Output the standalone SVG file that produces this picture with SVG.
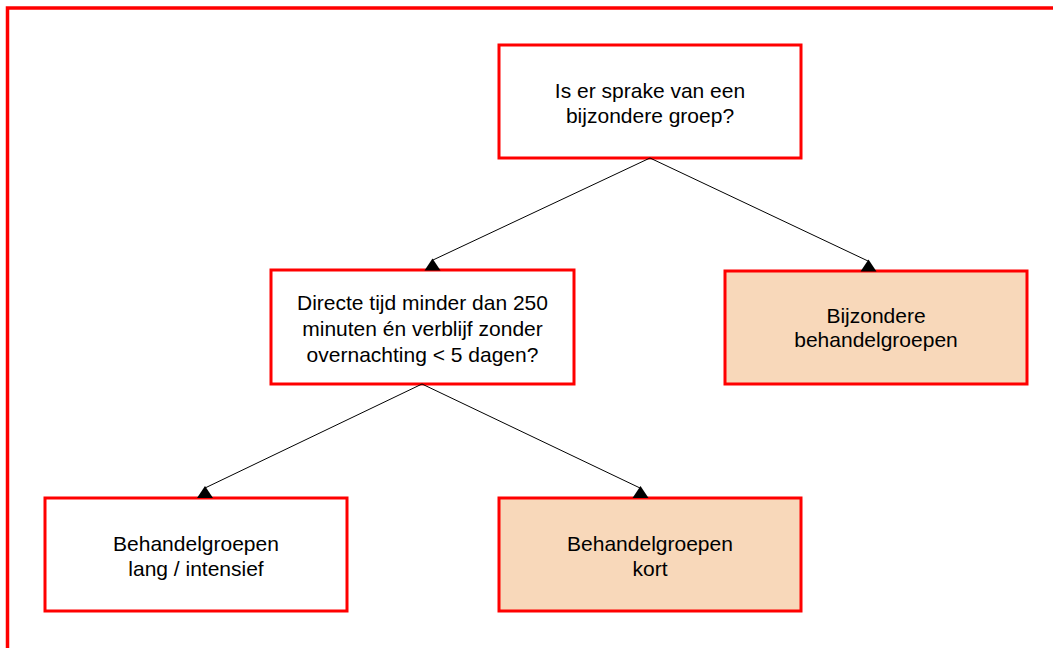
<svg xmlns="http://www.w3.org/2000/svg" width="1053" height="648" viewBox="0 0 1053 648">
<style>
.box{fill:#ffffff;stroke:#ff0000;stroke-width:3}
.fill{fill:#f8d8ba}
.t{font-family:"Liberation Sans",Arial,sans-serif;font-size:21px;fill:#000;text-anchor:middle}
.ln{stroke:#000;stroke-width:1;fill:none}
.ah{fill:#000}
</style>
<rect x="0" y="0" width="1053" height="648" fill="#ffffff"/>
<rect x="7.5" y="8" width="1100" height="700" fill="none" stroke="#ff0000" stroke-width="3.5"/>
<g id="n1">
<rect class="box" x="499" y="45" width="302" height="113"/>
<text class="t" x="650" y="98">Is er sprake van een</text>
<text class="t" x="650" y="123">bijzondere groep?</text>
</g>
<g id="n2">
<rect class="box" x="271" y="270" width="303" height="114"/>
<text class="t" x="422.5" y="310">Directe tijd minder dan 250</text>
<text class="t" x="422.5" y="336">minuten én verblijf zonder</text>
<text class="t" x="422.5" y="362">overnachting &lt; 5 dagen?</text>
</g>
<g id="n3">
<rect class="box fill" x="725" y="271" width="302" height="113"/>
<text class="t" x="876" y="323">Bijzondere</text>
<text class="t" x="876" y="347">behandelgroepen</text>
</g>
<g id="n4">
<rect class="box" x="45" y="498" width="302" height="113"/>
<text class="t" x="196" y="551">Behandelgroepen</text>
<text class="t" x="196" y="576">lang / intensief</text>
</g>
<g id="n5">
<rect class="box fill" x="499" y="498" width="302" height="113"/>
<text class="t" x="650" y="551">Behandelgroepen</text>
<text class="t" x="650" y="576">kort</text>
</g>
<g id="connectors">
<line class="ln" x1="650" y1="158" x2="433" y2="260"/>
<polygon class="ah" points="424.5,270.5 440.5,270.5 432.5,258.5"/>
<line class="ln" x1="650" y1="158" x2="868" y2="261"/>
<polygon class="ah" points="860.5,271.5 876.5,271.5 868.5,259.5"/>
<line class="ln" x1="422" y1="384" x2="205" y2="488"/>
<polygon class="ah" points="197,498 213,498 205,486"/>
<line class="ln" x1="422" y1="384" x2="640" y2="488"/>
<polygon class="ah" points="632.5,498 648.5,498 640.5,486"/>
</g>
</svg>
